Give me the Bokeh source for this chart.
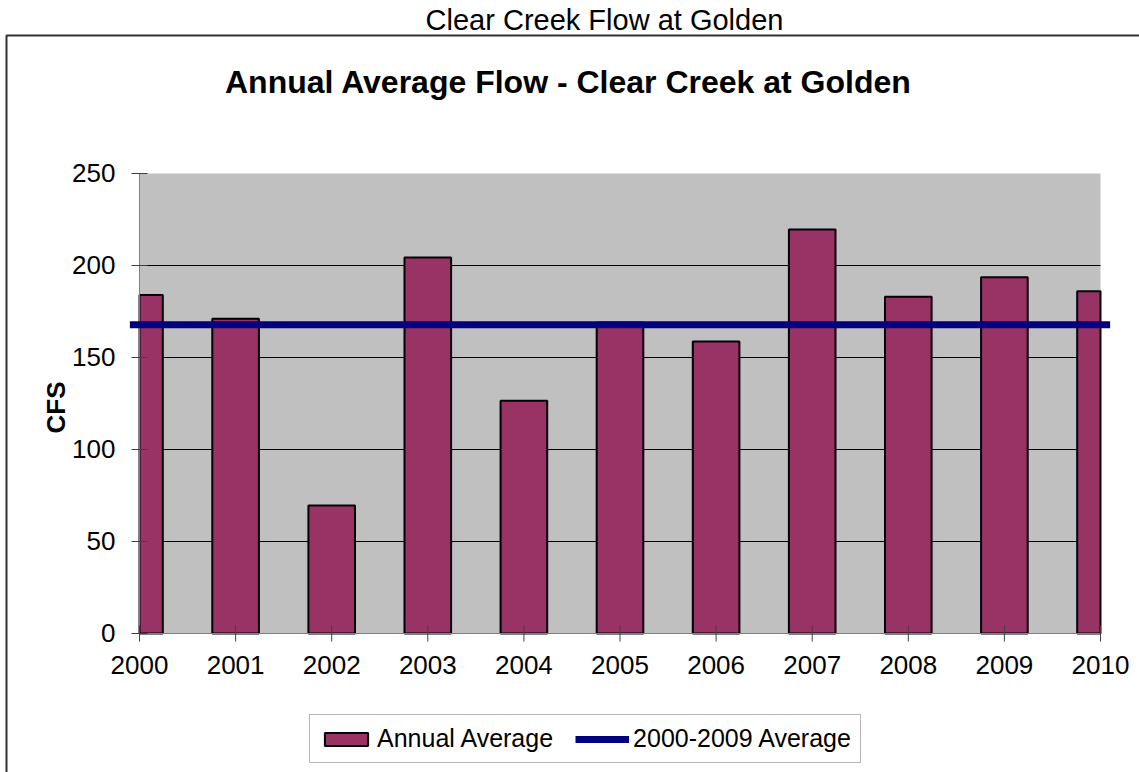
import math
from bokeh.plotting import figure
from bokeh.models import Range1d, Label, BoxAnnotation, Legend, LegendItem
from bokeh.embed import file_html
from bokeh.resources import INLINE
from bokeh.core.properties import value

# ---- data ----
years = [2000, 2001, 2002, 2003, 2004, 2005, 2006, 2007, 2008, 2009, 2010]
flow = [184, 171, 69.6, 204.3, 126.5, 169, 158.7, 219.6, 183, 193.6, 186]
avg_flow = 167.8          # 2000-2009 average (horizontal line)
y_ticks = [0, 50, 100, 150, 200, 250]
x_tick_labels = [str(y) for y in years]
y_tick_labels = [str(v) for v in y_ticks]

page_title = "Clear Creek Flow at Golden"
chart_title = "Annual Average Flow - Clear Creek at Golden"
y_label = "CFS"
bar_label = "Annual Average"
line_label = "2000-2009 Average"

# ---- styling / layout ----
FONT = "Liberation Sans"
BAR_COLOR = "#993366"
LINE_COLOR = "#000080"
PLOT_BG = "#C0C0C0"
AXIS_COLOR = "#808080"
TICK_COLOR = "#404040"
W, H = 1139, 772
PLOT_L, PLOT_T, PLOT_R, PLOT_B = 139, 173, 1100, 633   # plot-area box in pixels
bar_width = 0.485
line_pad = 0.1

x0, x1 = years[0], years[-1]
yb, yt = y_ticks[0], y_ticks[-1]
xpp = (x1 - x0) / (PLOT_R - PLOT_L)
ypp = (yt - yb) / (PLOT_B - PLOT_T)

p = figure(width=W, height=H,
           x_range=Range1d(x0 - PLOT_L * xpp, x1 + (W - PLOT_R) * xpp),
           y_range=Range1d(yb - (H - PLOT_B) * ypp, yt + PLOT_T * ypp),
           x_axis_location=None, y_axis_location=None,
           min_border_left=0, min_border_right=0, min_border_top=0, min_border_bottom=0,
           output_backend="svg", toolbar_location=None,
           background_fill_color="white", border_fill_color="white",
           outline_line_color=None)
p.grid.visible = False

# plot-area background and gridlines
p.quad(left=[x0], right=[x1], bottom=[yb], top=[yt], fill_color=PLOT_BG, line_color=None)
grid_vals = y_ticks[1:-1]
p.segment(x0=[x0] * len(grid_vals), x1=[x1] * len(grid_vals), y0=grid_vals, y1=grid_vals,
          line_color="black", line_width=1)

# bars (clipped to the plot area like the original)
lefts = [max(x - bar_width / 2, x0) for x in years]
rights = [min(x + bar_width / 2, x1) for x in years]
bars = p.quad(left=lefts, right=rights, bottom=[yb] * len(years), top=flow,
              fill_color=BAR_COLOR, line_color="black", line_width=2)

# axes lines
p.segment(x0=[x0], x1=[x0], y0=[yb], y1=[yt], line_color=AXIS_COLOR, line_width=1)
p.segment(x0=[x0], x1=[x1], y0=[yb], y1=[yb], line_color=AXIS_COLOR, line_width=1)
# ticks (crossing the axes)
p.scatter(x=[x0] * len(y_ticks), y=y_ticks, marker="dash", size=16,
          line_color=TICK_COLOR, line_width=1)
p.scatter(x=years, y=[yb] * len(years), marker="dash", size=16, angle=math.pi / 2,
          line_color=TICK_COLOR, line_width=1)

# average line
avg_line = p.line(x=[x0 - line_pad, x1 + line_pad], y=[avg_flow, avg_flow],
                  line_color=LINE_COLOR, line_width=7, line_cap="butt")

# tick labels
p.text(x=[x0] * len(y_ticks), y=y_ticks, text=y_tick_labels, x_offset=-24, y_offset=-1,
       text_align="right", text_baseline="alphabetic",
       text_font=value(FONT), text_font_size="26px", text_color="black")
p.text(x=years, y=[yb] * len(years), text=x_tick_labels, y_offset=31,
       text_align="center", text_baseline="alphabetic",
       text_font=value(FONT), text_font_size="26px", text_color="black")
# y axis title
p.text(x=[x0], y=[(yb + yt) / 2], text=[y_label], angle=math.pi / 2,
       x_offset=-84, y_offset=4, text_align="center", text_baseline="alphabetic",
       text_font=value(FONT), text_font_size="26px", text_font_style="bold",
       text_color="black")

# legend
legend = Legend(items=[LegendItem(label=bar_label, renderers=[bars]),
                       LegendItem(label=line_label, renderers=[avg_line])],
                orientation="horizontal", location=(309, 9),
                glyph_width=54, glyph_height=16, label_standoff=4, spacing=22,
                padding=9, margin=0,
                label_text_font=FONT, label_text_font_size="25px",
                label_text_color="black",
                border_line_color="#707070", border_line_width=1,
                background_fill_color="white", background_fill_alpha=1)
p.add_layout(legend, "center")

# titles and outer chart border
p.add_layout(Label(x=604, y=19, x_units="canvas", y_units="canvas", text=page_title,
                   text_align="center", text_baseline="alphabetic",
                   text_font=FONT, text_font_size="29px", text_color="black"))
p.add_layout(Label(x=568, y=81, x_units="canvas", y_units="canvas", text=chart_title,
                   text_align="center", text_baseline="alphabetic",
                   text_font=FONT, text_font_size="32px", text_font_style="bold",
                   text_color="black"))
p.add_layout(BoxAnnotation(left=6, right=3000, top=35, bottom=3000,
                           left_units="canvas", right_units="canvas",
                           top_units="canvas", bottom_units="canvas",
                           fill_color=None, fill_alpha=0,
                           line_color="#303030", line_alpha=1, line_width=2))

open("out.html", "w").write(file_html(p, INLINE))
